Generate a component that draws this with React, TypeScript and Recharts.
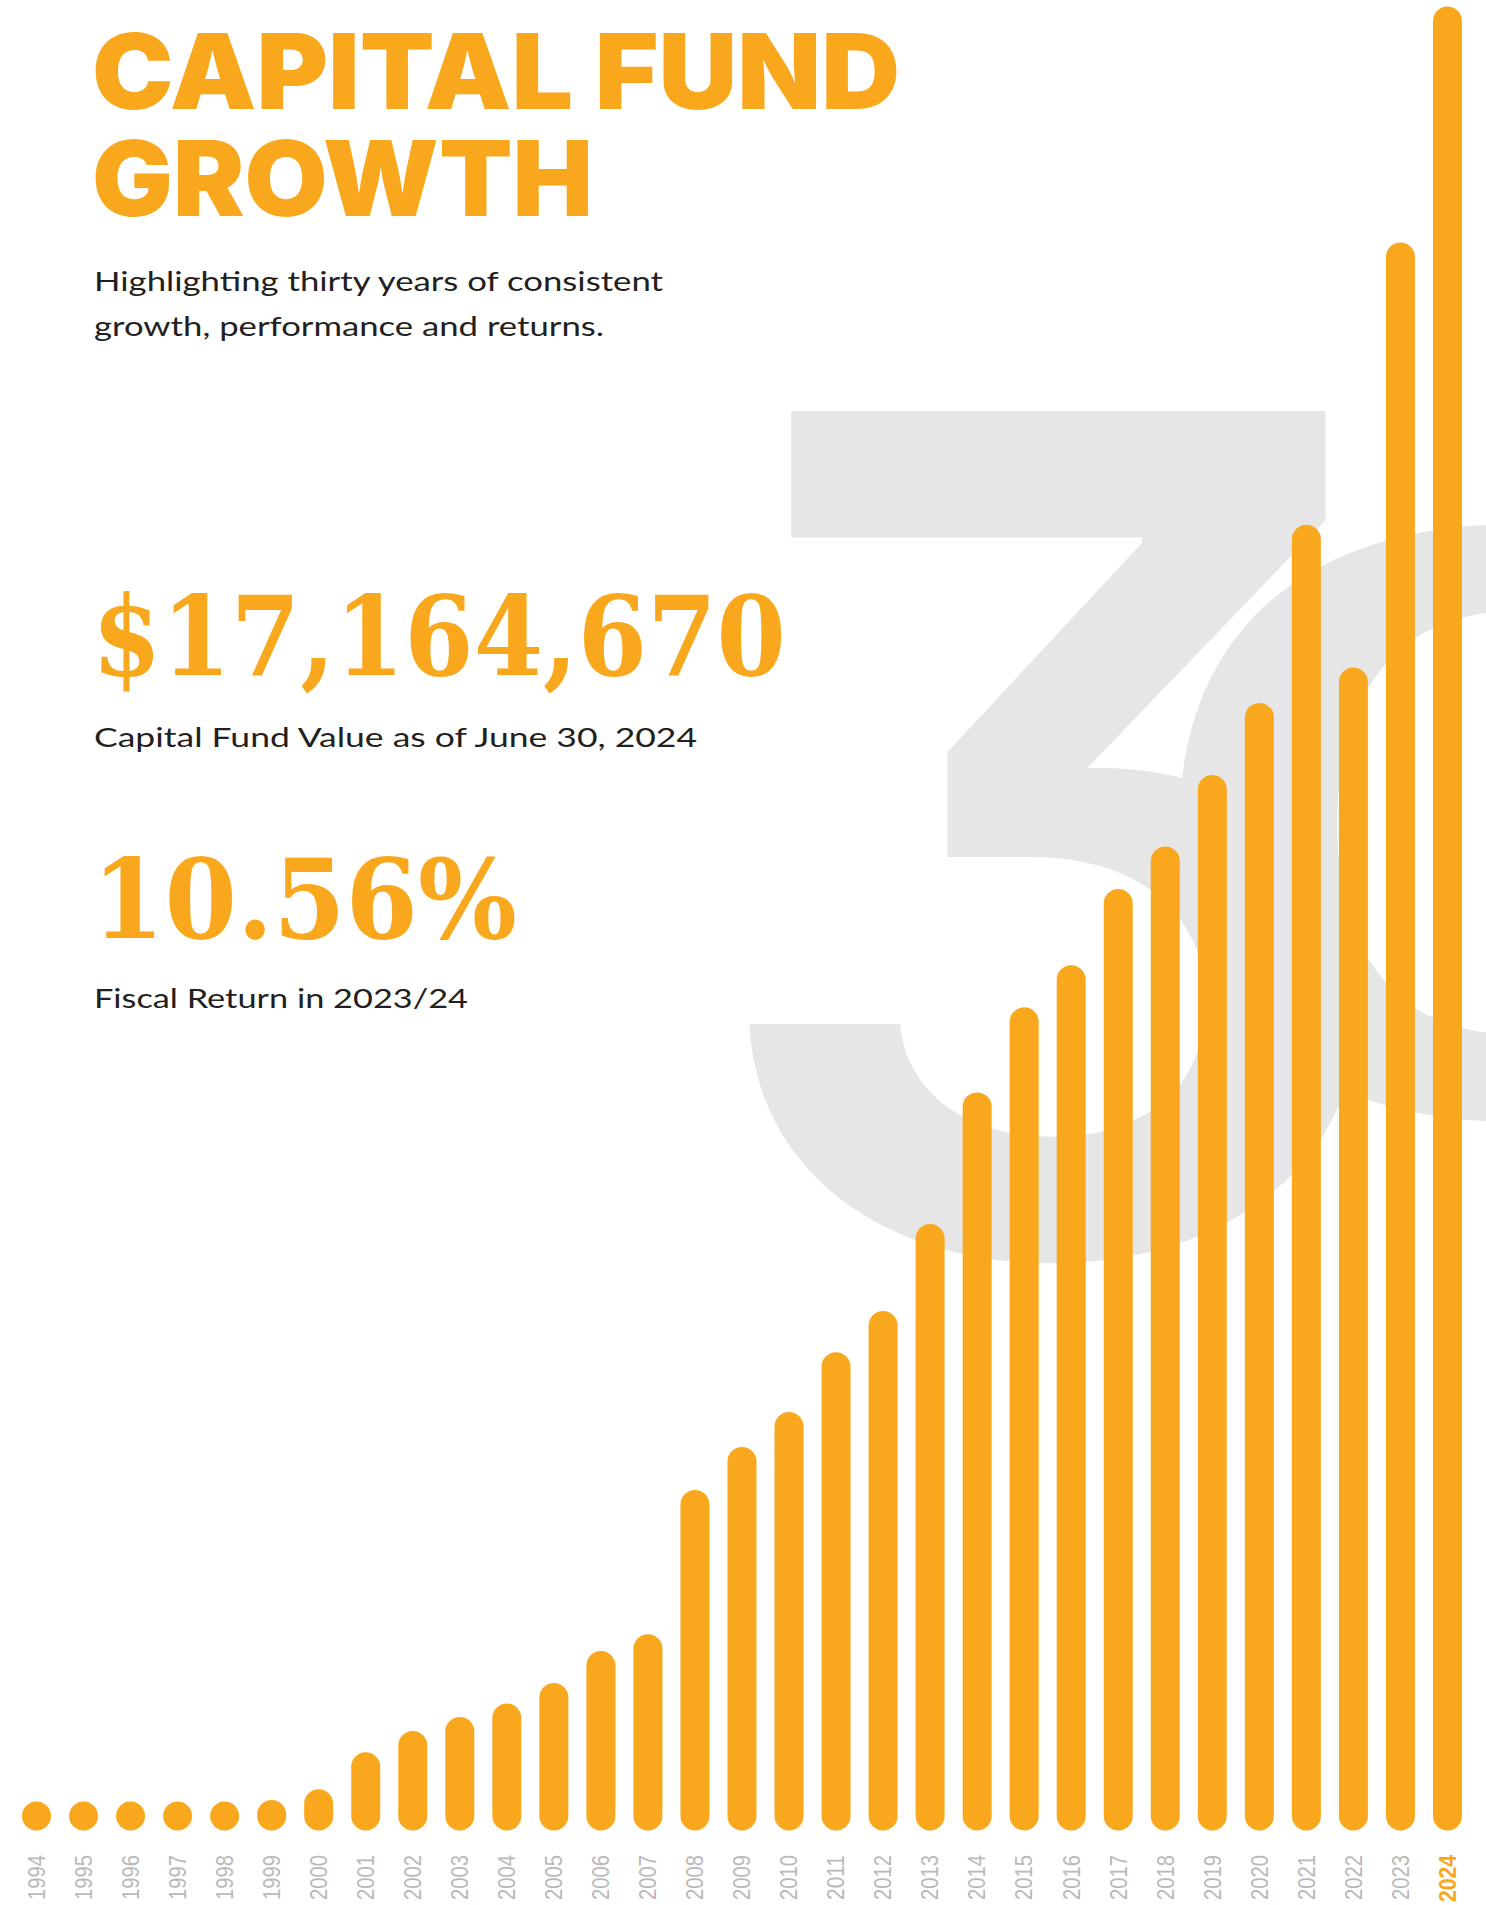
import React from 'react';
import { BarChart, Bar, XAxis, YAxis } from 'recharts';

// ---- data (capital fund value, millions of dollars, at each June 30) ----
const YEARS: string[] = [
  '1994', '1995', '1996', '1997', '1998', '1999', '2000', '2001', '2002', '2003',
  '2004', '2005', '2006', '2007', '2008', '2009', '2010', '2011', '2012', '2013',
  '2014', '2015', '2016', '2017', '2018', '2019', '2020', '2021', '2022', '2023', '2024',
];
const FUND_VALUE_M: number[] = [
  0, 0, 0, 0, 0, 0.015, 0.118, 0.472, 0.675, 0.809,
  0.937, 1.134, 1.44, 1.6, 2.978, 3.389, 3.724, 4.297, 4.69, 5.522,
  6.781, 7.594, 7.996, 8.726, 9.131, 9.816, 10.505, 12.21, 10.843, 14.908, 17.16467,
];
const HIGHLIGHT_YEAR = '2024';

const TITLE_LINES: string[] = ['CAPITAL FUND', 'GROWTH'];
const SUBTITLE_LINES: string[] = ['Highlighting thirty years of consistent', 'growth, performance and returns.'];
const BIG_VALUE = '$17,164,670';
const BIG_VALUE_CAPTION = 'Capital Fund Value as of June 30, 2024';
const RETURN_VALUE = '10.56%';
const RETURN_CAPTION = 'Fiscal Return in 2023/24';
const BACKGROUND_DIGITS: string[] = ['3', '0'];

const data = YEARS.map((year, i) => ({ year, value: FUND_VALUE_M[i] }));
const MAX_VALUE = Math.max(...FUND_VALUE_M);

// ---- styles ----
const W = 1486;
const H = 1905;
const ORANGE = '#F9A81E';
const GREY_LABEL = '#B9B9B9';
const BG_GREY = '#E6E6E6';
const DARK = '#231F20';
const BAR_W = 29;
const LABEL_END_Y = 1855;
const LABEL_FS = 23;

const PillBar = (props: any) => {
  const { x, y, width, height } = props;
  if (x == null || y == null) return null;
  const r = width / 2;
  const h = Math.max(0, height || 0);
  return <rect x={x} y={y - r} width={width} height={h + 2 * r} rx={r} ry={r} fill={ORANGE} />;
};

const YearTick = (props: any) => {
  const { x, payload } = props;
  const hl = payload.value === HIGHLIGHT_YEAR;
  return (
    <text
      transform={`translate(${x + LABEL_FS * 0.36}, ${LABEL_END_Y}) rotate(-90)`}
      textAnchor="end"
      fontSize={LABEL_FS}
      fontFamily="'Liberation Sans', Arial, sans-serif"
      fontWeight={hl ? 700 : 400}
      fill={hl ? ORANGE : GREY_LABEL}
      textLength={hl ? 47 : 45}
      lengthAdjust="spacingAndGlyphs"
    >
      {payload.value}
    </text>
  );
};

const sans = "Lato, 'Open Sans', sans-serif";
const serif = "'DejaVu Serif', 'Liberation Serif', serif";

export default function App() {
  return (
    <div style={{ position: 'absolute', left: 0, top: 0, width: W, height: H, background: '#fff', overflow: 'hidden' }}>
      {/* background decoration and text */}
      <svg width={W} height={H} style={{ position: 'absolute', left: 0, top: 0 }}>
        <g
          fill={BG_GREY}
          fontFamily="Inter, 'Open Sans', sans-serif"
          fontWeight={600}
          style={{ fontFeatureSettings: '"cv09" 1' }}
        >
          <text transform="translate(690, 1252) scale(0.985, 1)" fontSize={1156}>{BACKGROUND_DIGITS[0]}</text>
          <text transform="translate(1515, 1114) scale(1.5, 1)" fontSize={800} textAnchor="middle">{BACKGROUND_DIGITS[1]}</text>
        </g>
        <g fill={ORANGE} fontFamily="Inter, Lato, sans-serif" fontWeight={900}>
          <text x={92} y={109} fontSize={104} textLength={808} lengthAdjust="spacingAndGlyphs">{TITLE_LINES[0]}</text>
          <text x={92} y={216} fontSize={104} textLength={501} lengthAdjust="spacingAndGlyphs">{TITLE_LINES[1]}</text>
        </g>
        <g fill={DARK} fontFamily={sans} fontWeight={400} fontSize={27.5}>
          <text x={94} y={291} textLength={569} lengthAdjust="spacingAndGlyphs">{SUBTITLE_LINES[0]}</text>
          <text x={94} y={336} textLength={510} lengthAdjust="spacingAndGlyphs">{SUBTITLE_LINES[1]}</text>
          <text x={94} y={747} textLength={603} lengthAdjust="spacingAndGlyphs">{BIG_VALUE_CAPTION}</text>
          <text x={94} y={1008} textLength={374} lengthAdjust="spacingAndGlyphs">{RETURN_CAPTION}</text>
        </g>
        <g fill={ORANGE} fontFamily={serif} fontWeight={700} fontSize={110}>
          <text x={92} y={675} textLength={694} lengthAdjust="spacingAndGlyphs">{BIG_VALUE}</text>
          <text x={92} y={938} textLength={425} lengthAdjust="spacingAndGlyphs">{RETURN_VALUE}</text>
        </g>
      </svg>
      <div style={{ position: 'absolute', left: 0, top: 0 }}>
        <BarChart
          width={W}
          height={H}
          data={data}
          margin={{ top: 21, right: 15, bottom: 0, left: 13 }}
          barSize={BAR_W}
        >
          <XAxis
            dataKey="year"
            axisLine={false}
            tickLine={false}
            interval={0}
            height={89}
            tick={<YearTick />}
          />
          <YAxis hide domain={[0, MAX_VALUE]} />
          <Bar dataKey="value" fill={ORANGE} isAnimationActive={false} shape={<PillBar />} />
        </BarChart>
      </div>
    </div>
  );
}
